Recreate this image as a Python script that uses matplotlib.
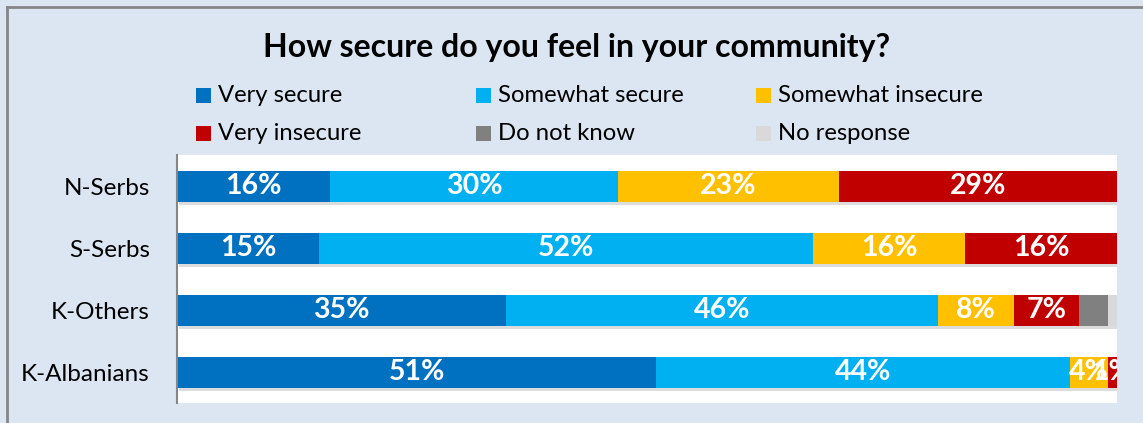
import matplotlib.pyplot as plt
import matplotlib.patheffects as pe
from matplotlib.patches import Rectangle
from matplotlib.lines import Line2D

# Survey shares (percent) per community group
groups = ["N-Serbs", "S-Serbs", "K-Others", "K-Albanians"]
very_secure = [16, 15, 35, 51]
somewhat_secure = [30, 52, 46, 44]
somewhat_insecure = [23, 16, 8, 4]
very_insecure = [29, 16, 7, 1]
do_not_know = [0, 0, 3, 0]
no_response = [0, 0, 1, 0]

series_names = ["Very secure", "Somewhat secure", "Somewhat insecure",
                "Very insecure", "Do not know", "No response"]
series_values = [very_secure, somewhat_secure, somewhat_insecure,
                 very_insecure, do_not_know, no_response]
colors = ["#0070c0", "#00b0f0", "#ffc000", "#c00000", "#808080", "#d9d9d9"]
labelled = [True, True, True, True, False, False]

plt.rcParams["font.family"] = ["Lato", "DejaVu Sans"]

W, H = 1143, 423
fig = plt.figure(figsize=(W / 100, H / 100), dpi=100)
fig.patch.set_facecolor("#dce6f2")

# outer frame (left and top edges visible)
fig.add_artist(Line2D([7 / W, 7 / W], [0, 1 - 7 / H], color="#868686", lw=2,
                      transform=fig.transFigure))
fig.add_artist(Line2D([7 / W, 1], [1 - 7 / H, 1 - 7 / H], color="#868686", lw=2,
                      transform=fig.transFigure))

ax = fig.add_axes([177 / W, 20 / H, 940 / W, 248 / H])
ax.set_facecolor("white")

totals = [sum(s[i] for s in series_values) for i in range(len(groups))]
ypos = list(range(len(groups)))
left = [0.0] * len(groups)
shadow = [pe.SimplePatchShadow(offset=(1.5, -2.5), shadow_rgbFace="#8c8c8c", alpha=0.3),
          pe.Normal()]

for name, vals, col, lab in zip(series_names, series_values, colors, labelled):
    share = [v / t * 100 for v, t in zip(vals, totals)]
    bars = ax.barh(ypos, share, left=left, height=0.5, color=col,
                   path_effects=shadow, zorder=2)
    if lab:
        for b, v, s in zip(bars, vals, share):
            if v == 0:
                continue
            t = ax.text(b.get_x() + s / 2, b.get_y() + b.get_height() / 2,
                        f"{v}%", ha="center", va="center", color="white",
                        fontsize=20.5, fontweight="bold", zorder=3)
            t.set_clip_on(True)
    left = [l + s for l, s in zip(left, share)]

ax.set_xlim(0, 100)
ax.set_ylim(len(groups) - 0.5, -0.5)
ax.set_yticks(ypos)
ax.set_yticklabels(groups, fontsize=17.5)
ax.tick_params(axis="y", length=0, pad=19.5)
ax.set_xticks([])
for side in ["top", "right", "bottom"]:
    ax.spines[side].set_visible(False)
ax.spines["left"].set_color("#868686")
ax.spines["left"].set_linewidth(1.5)

fig.text(577 / W, 1 - 48 / H, "How secure do you feel in your community?",
         ha="center", va="center", fontsize=23, fontweight="bold")

# legend laid out in a 3 x 2 grid
for i, (name, col) in enumerate(zip(series_names, colors)):
    row, c = divmod(i, 3)
    x0 = 196 + 280 * c
    yc = 96 + 38 * row
    fig.add_artist(Rectangle((x0 / W, 1 - (yc + 7.5) / H), 15 / W, 15 / H,
                             facecolor=col, edgecolor="none",
                             transform=fig.transFigure))
    fig.text((x0 + 22) / W, 1 - yc / H, name, ha="left", va="center",
             fontsize=17.2)

fig.savefig("out.png", dpi=100, facecolor=fig.get_facecolor())
